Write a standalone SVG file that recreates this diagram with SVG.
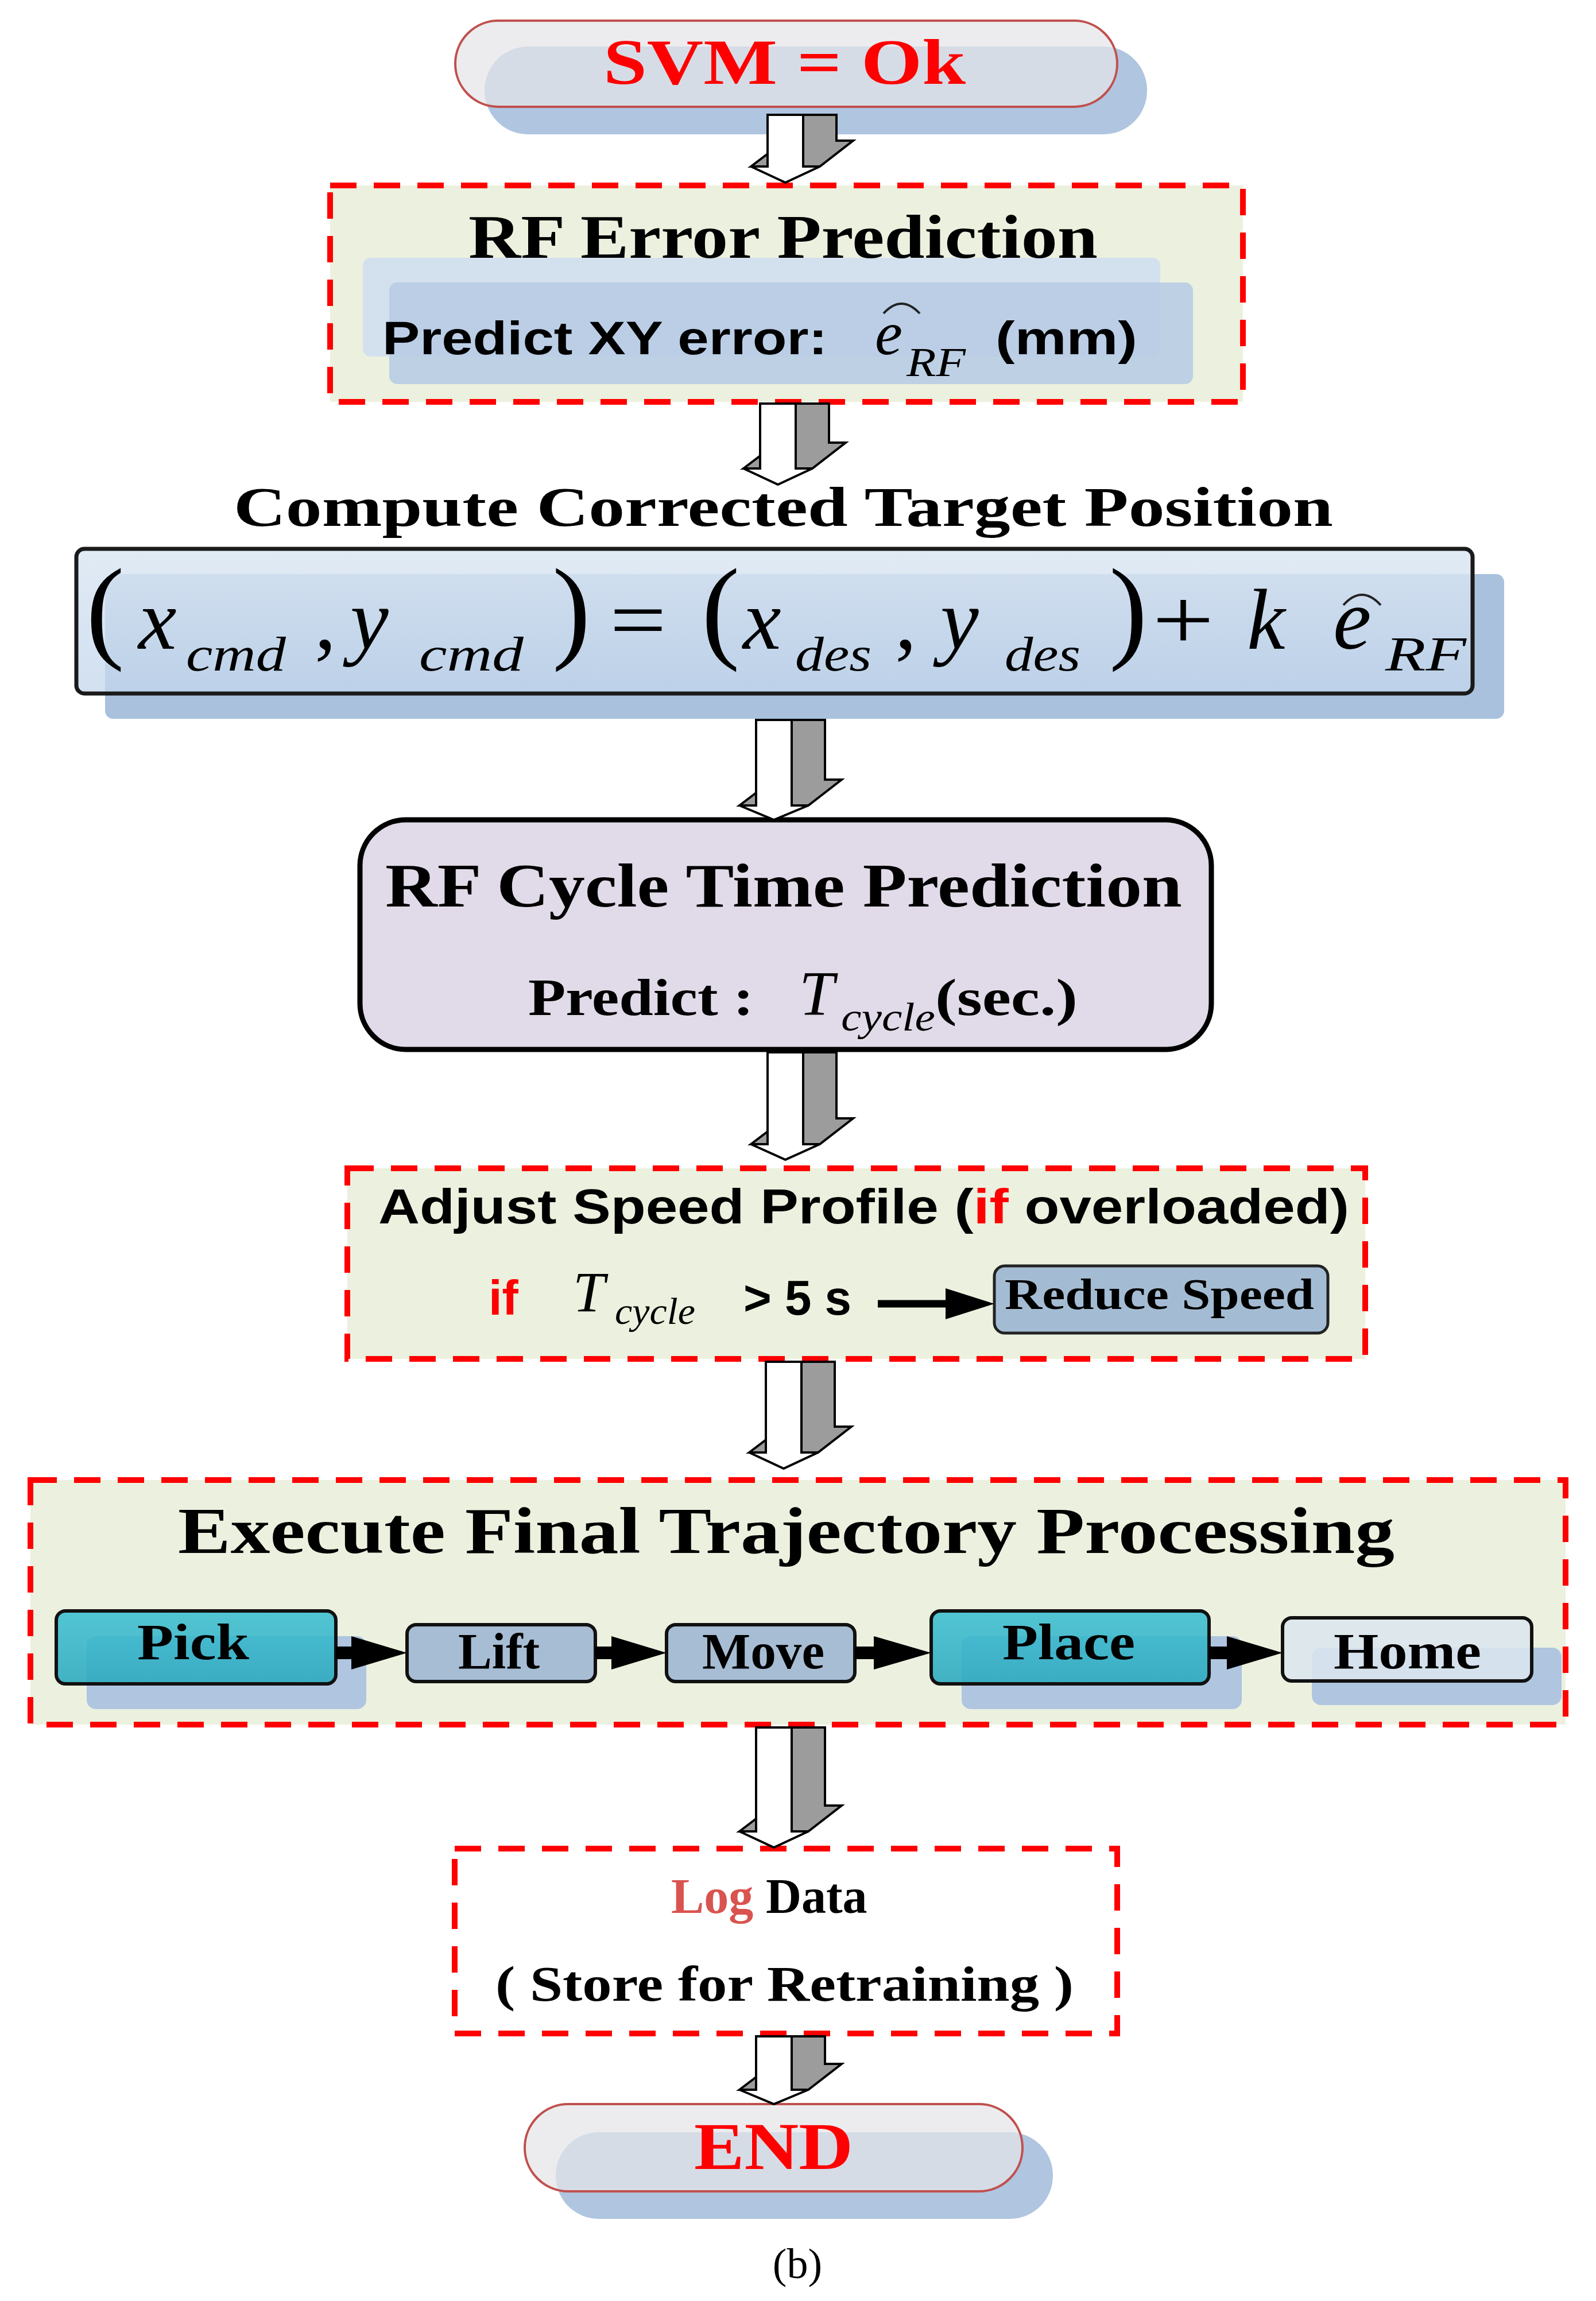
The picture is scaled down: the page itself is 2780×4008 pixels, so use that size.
<svg xmlns="http://www.w3.org/2000/svg" width="2780" height="4008" viewBox="0 0 2780 4008">
<style>
.tb{font-family:"Liberation Serif","Times New Roman",serif;font-weight:bold;fill:#000}
.ti{font-family:"Liberation Serif","Times New Roman",serif;font-style:italic;fill:#000}
.tr{font-family:"Liberation Serif","Times New Roman",serif;fill:#000}
.sb{font-family:"Liberation Sans",Arial,sans-serif;font-weight:bold;fill:#000}
.red{fill:#FF0000}
.dash{fill:#EBF1DE;stroke:#FF0000;stroke-width:10;stroke-dasharray:46 30}
.arrW{fill:#fff;stroke:#000;stroke-width:4;stroke-linejoin:miter}
.arrG{fill:#9c9c9c;stroke:#000;stroke-width:4;stroke-linejoin:miter}
.shadow{fill:#AFC5E0}
.pill{fill:#E4E4E8;fill-opacity:0.72;stroke:#C0504D;stroke-width:4}
.step{stroke:#111;stroke-width:6}
.hat{fill:none;stroke:#222;stroke-width:4}
</style>
<defs>
<linearGradient id="gFormula" x1="0" y1="0" x2="0" y2="1">
<stop offset="0" stop-color="#DCE7F3" stop-opacity="0.85"/>
<stop offset="1" stop-color="#C3D6EC" stop-opacity="0.75"/>
</linearGradient>
<linearGradient id="gCyan" x1="0" y1="0" x2="0" y2="1">
<stop offset="0" stop-color="#3DBFD2"/>
<stop offset="1" stop-color="#2AA9BE"/>
</linearGradient>
</defs>
<rect width="2780" height="4008" fill="#fff"/>

<g id="start">
<rect class="shadow" x="844" y="81" width="1154" height="153" rx="76"/>
<rect class="pill" x="793" y="36" width="1153" height="150" rx="75"/>
<text class="tb red" x="1051" y="146" font-size="112" textLength="631" lengthAdjust="spacingAndGlyphs">SVM = Ok</text>
</g>

<g id="rf-error">
<rect class="dash" x="575" y="323" width="1590" height="377"/>
<rect x="632" y="449" width="1389" height="172" rx="14" fill="#D3E0EE"/>
<rect x="678" y="492" width="1400" height="177" rx="14" fill="#B8CCE4" fill-opacity="0.9"/>
<text class="tb" x="816" y="449" font-size="107" textLength="1096" lengthAdjust="spacingAndGlyphs">RF Error Prediction</text>
<text class="sb" x="666" y="617" font-size="81" textLength="775" lengthAdjust="spacingAndGlyphs">Predict XY error:</text>
<text class="ti" x="1524" y="617" font-size="108">e</text>
<path class="hat" d="M1539,546 Q1570,512 1602,546"/>
<text class="ti" x="1579" y="655" font-size="72" textLength="103" lengthAdjust="spacingAndGlyphs">RF</text>
<text class="sb" x="1734" y="617" font-size="81" textLength="247" lengthAdjust="spacingAndGlyphs">(mm)</text>
</g>

<g id="corrected-target">
<text class="tb" x="407" y="916" font-size="97" textLength="1915" lengthAdjust="spacingAndGlyphs">Compute Corrected Target Position</text>
<rect x="183" y="1000" width="2437" height="252" rx="14" fill="#A9C1DD"/>
<rect x="133" y="956" width="2432" height="252" rx="14" fill="url(#gFormula)" stroke="#1a1a1a" stroke-width="7"/>
<text class="tr" x="150" y="1128" font-size="200">(</text>
<text class="ti" x="241" y="1130" font-size="150">x</text>
<text class="ti" x="324" y="1168" font-size="85" textLength="174" lengthAdjust="spacingAndGlyphs">cmd</text>
<text class="tr" x="548" y="1130" font-size="150">,</text>
<text class="ti" x="610" y="1130" font-size="150">y</text>
<text class="ti" x="730" y="1168" font-size="85" textLength="182" lengthAdjust="spacingAndGlyphs">cmd</text>
<text class="tr" x="962" y="1128" font-size="200">)</text>
<text class="tr" x="1062" y="1130" font-size="150" textLength="99" lengthAdjust="spacingAndGlyphs">=</text>
<text class="tr" x="1222" y="1128" font-size="200">(</text>
<text class="ti" x="1294" y="1130" font-size="150">x</text>
<text class="ti" x="1385" y="1168" font-size="85" textLength="133" lengthAdjust="spacingAndGlyphs">des</text>
<text class="tr" x="1559" y="1130" font-size="150">,</text>
<text class="ti" x="1638" y="1130" font-size="150">y</text>
<text class="ti" x="1750" y="1168" font-size="85" textLength="132" lengthAdjust="spacingAndGlyphs">des</text>
<text class="tr" x="1932" y="1128" font-size="200">)</text>
<text class="tr" x="2007" y="1130" font-size="150" textLength="108" lengthAdjust="spacingAndGlyphs">+</text>
<text class="ti" x="2172" y="1130" font-size="150">k</text>
<text class="ti" x="2322" y="1130" font-size="150">e</text>
<path class="hat" d="M2340,1054 Q2372,1018 2405,1054" stroke-width="5"/>
<text class="ti" x="2413" y="1168" font-size="85" textLength="141" lengthAdjust="spacingAndGlyphs">RF</text>
</g>

<g id="rf-cycle">
<rect x="627" y="1428" width="1483" height="400" rx="80" fill="#E1DAE8" stroke="#000" stroke-width="9"/>
<text class="tb" x="671" y="1579" font-size="107" textLength="1388" lengthAdjust="spacingAndGlyphs">RF Cycle Time Prediction</text>
<text class="tb" x="920" y="1768" font-size="90" textLength="393" lengthAdjust="spacingAndGlyphs">Predict :</text>
<text class="ti" x="1392" y="1768" font-size="110">T</text>
<text class="ti" x="1465" y="1795" font-size="70" textLength="164" lengthAdjust="spacingAndGlyphs">cycle</text>
<text class="tb" x="1629" y="1768" font-size="90" textLength="248" lengthAdjust="spacingAndGlyphs">(sec.)</text>
</g>

<g id="adjust-speed">
<rect class="dash" x="605" y="2035" width="1773" height="332"/>
<text class="sb" x="659" y="2131" font-size="85" textLength="1691" lengthAdjust="spacingAndGlyphs">Adjust Speed Profile (<tspan class="red">if</tspan> overloaded)</text>
<text class="sb red" x="851" y="2290" font-size="85">if</text>
<text class="ti" x="998" y="2284" font-size="100">T</text>
<text class="ti" x="1071" y="2306" font-size="65" textLength="140" lengthAdjust="spacingAndGlyphs">cycle</text>
<text class="sb" x="1295" y="2290" font-size="85" textLength="188" lengthAdjust="spacingAndGlyphs">&gt; 5 s</text>
</g>

<g id="reduce-speed">
<rect x="1732" y="2205" width="581" height="117" rx="18" fill="#A4BCD3" stroke="#222" stroke-width="5"/>
<text class="tb" x="1750" y="2280" font-size="77" textLength="539" lengthAdjust="spacingAndGlyphs">Reduce Speed</text>
</g>

<g id="execute">
<rect class="dash" x="53" y="2578" width="2674" height="426"/>
<text class="tb" x="310" y="2705" font-size="115" textLength="2119" lengthAdjust="spacingAndGlyphs">Execute Final Trajectory Processing</text>
</g>

<g id="pick">
<rect class="shadow" x="151" y="2850" width="487" height="127" rx="16"/>
<rect class="step" x="98" y="2806" width="487" height="127" rx="16" fill="url(#gCyan)" fill-opacity="0.88"/>
<text class="tb" x="239" y="2890" font-size="88" textLength="195" lengthAdjust="spacingAndGlyphs">Pick</text>
</g>
<g id="lift">
<rect class="step" x="709" y="2830" width="328" height="99" rx="16" fill="#A7BDD4"/>
<text class="tb" x="798" y="2906" font-size="88" textLength="142" lengthAdjust="spacingAndGlyphs">Lift</text>
</g>
<g id="move">
<rect class="step" x="1161" y="2830" width="328" height="99" rx="16" fill="#A7BDD4"/>
<text class="tb" x="1223" y="2906" font-size="88" textLength="213" lengthAdjust="spacingAndGlyphs">Move</text>
</g>
<g id="place">
<rect class="shadow" x="1675" y="2850" width="488" height="127" rx="16"/>
<rect class="step" x="1622" y="2806" width="484" height="127" rx="16" fill="url(#gCyan)" fill-opacity="0.88"/>
<text class="tb" x="1746" y="2890" font-size="88" textLength="231" lengthAdjust="spacingAndGlyphs">Place</text>
</g>
<g id="home">
<rect class="shadow" x="2285" y="2870" width="435" height="100" rx="16"/>
<rect class="step" x="2234" y="2818" width="434" height="110" rx="16" fill="#DCE5EF" fill-opacity="0.85"/>
<text class="tb" x="2323" y="2906" font-size="88" textLength="257" lengthAdjust="spacingAndGlyphs">Home</text>
</g>

<g id="log-data">
<rect class="dash" x="792" y="3220" width="1154" height="322" fill="#fff" style="fill:#fff"/>
<text class="tb" x="1169" y="3332" font-size="86"><tspan fill="#D9534F">Log</tspan> Data</text>
<text class="tb" x="863" y="3485" font-size="86" textLength="1007" lengthAdjust="spacingAndGlyphs">( Store for Retraining )</text>
</g>

<g id="end">
<rect class="shadow" x="968" y="3714" width="866" height="151" rx="75"/>
<rect class="pill" x="914" y="3665" width="867" height="152" rx="76"/>
<text class="tb red" x="1209" y="3778" font-size="116" textLength="277" lengthAdjust="spacingAndGlyphs">END</text>
</g>

<text class="tr" x="1389" y="3968" font-size="74" text-anchor="middle">(b)</text>

<g id="connectors">
<path class="arrG" d="M1399,200 H1457 V245 H1486 L1428,290 H1399 Z"/>
<path class="arrG" d="M1308,290 L1337,268 V290 Z"/>
<path class="arrW" d="M1337,200 H1399 V290 H1428 L1368,318 L1308,290 H1337 Z"/>

<path class="arrG" d="M1386,703 H1444 V771 H1473 L1415,816 H1386 Z"/>
<path class="arrG" d="M1295,816 L1324,794 V816 Z"/>
<path class="arrW" d="M1324,703 H1386 V816 H1415 L1355,844 L1295,816 H1324 Z"/>

<path class="arrG" d="M1379,1254 H1437 V1358 H1466 L1408,1403 H1379 Z"/>
<path class="arrG" d="M1288,1403 L1317,1381 V1403 Z"/>
<path class="arrW" d="M1317,1254 H1379 V1403 H1408 L1348,1428 L1288,1403 H1317 Z"/>

<path class="arrG" d="M1399,1833 H1457 V1948 H1486 L1428,1993 H1399 Z"/>
<path class="arrG" d="M1308,1993 L1337,1971 V1993 Z"/>
<path class="arrW" d="M1337,1833 H1399 V1993 H1428 L1368,2020 L1308,1993 H1337 Z"/>

<path class="arrG" d="M1396,2372 H1454 V2485 H1483 L1425,2530 H1396 Z"/>
<path class="arrG" d="M1305,2530 L1334,2508 V2530 Z"/>
<path class="arrW" d="M1334,2372 H1396 V2530 H1425 L1365,2558 L1305,2530 H1334 Z"/>

<path class="arrG" d="M1379,3009 H1437 V3145 H1466 L1408,3190 H1379 Z"/>
<path class="arrG" d="M1288,3190 L1317,3168 V3190 Z"/>
<path class="arrW" d="M1317,3009 H1379 V3190 H1408 L1348,3218 L1288,3190 H1317 Z"/>

<path class="arrG" d="M1379,3547 H1437 V3595 H1466 L1408,3640 H1379 Z"/>
<path class="arrG" d="M1288,3640 L1317,3618 V3640 Z"/>
<path class="arrW" d="M1317,3547 H1379 V3640 H1408 L1348,3665 L1288,3640 H1317 Z"/>

<line x1="1529" y1="2271" x2="1655" y2="2271" stroke="#000" stroke-width="13"/>
<polygon points="1647,2244 1732,2271 1647,2298" fill="#000"/>

<rect x="585" y="2868" width="30" height="22" fill="#000"/>
<polygon points="612,2850 709,2879 612,2908" fill="#000"/>
<rect x="1037" y="2868" width="31" height="22" fill="#000"/>
<polygon points="1065,2850 1161,2879 1065,2908" fill="#000"/>
<rect x="1489" y="2868" width="36" height="22" fill="#000"/>
<polygon points="1522,2850 1622,2879 1522,2908" fill="#000"/>
<rect x="2106" y="2868" width="34" height="22" fill="#000"/>
<polygon points="2137,2850 2234,2879 2137,2908" fill="#000"/>
</g>
</svg>
